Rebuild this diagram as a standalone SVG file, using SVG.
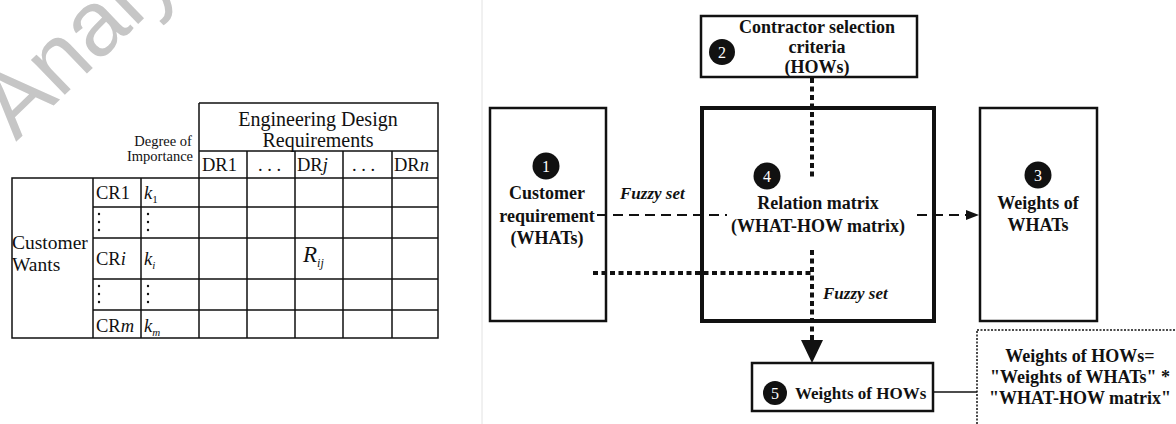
<svg xmlns="http://www.w3.org/2000/svg" width="1176" height="424" viewBox="0 0 1176 424">
  <style>
    .grid { stroke: #111; stroke-width: 1.5; fill: none; }
    .tt { font-family: "Liberation Serif", "Times New Roman", serif; fill: #111; }
    .bx { fill: #fff; stroke: #111; stroke-width: 2.5; }
    .lb { font-family: "Liberation Serif", "Times New Roman", serif; font-weight: bold; font-size: 18px; fill: #111; text-anchor: middle; }
    .num { font-family: "Liberation Serif", "Times New Roman", serif; font-size: 16px; fill: #fff; text-anchor: middle; }
    .fz { font-family: "Liberation Serif", "Times New Roman", serif; font-weight: bold; font-style: italic; font-size: 17px; fill: #111; }
    .dash { stroke: #111; stroke-width: 2.2; stroke-dasharray: 10 6; fill: none; }
    .dot { stroke: #111; stroke-width: 4; stroke-dasharray: 5 3.5; fill: none; }
  </style>
  <defs>
    <marker id="arrowSmall" markerWidth="14" markerHeight="12" refX="13" refY="6" orient="auto" markerUnits="userSpaceOnUse">
      <path d="M0,1 L13,6 L0,11 Z" fill="#111"/>
    </marker>
  </defs>

  <!-- watermark -->
  <text x="16" y="142" transform="rotate(-44 16 142)" font-family="Liberation Sans, Arial, sans-serif" font-size="92" fill="#c6c6c6">Analysis</text>

  <!-- separator between panels -->
  <line x1="482" y1="0" x2="482" y2="424" stroke="#e2e2e2" stroke-width="1"/>

  <!-- QFD house-of-quality table -->
  <g id="qfd-table">
    <path class="grid" d="M199,103 H438 V338 H12 V178 H438 M199,103 V338 M199,151 H438 M93,178 V338 M141,178 V338 M247,151 V338 M295,151 V338 M343,151 V338 M392,151 V338 M93,207 H438 M93,238 H438 M93,279 H438 M93,310 H438"/>
    <text class="tt" x="163" y="146" font-size="14.5" text-anchor="middle">Degree of</text>
    <text class="tt" x="160" y="161" font-size="14.5" text-anchor="middle">Importance</text>
    <text class="tt" x="318" y="126" font-size="20" text-anchor="middle">Engineering Design</text>
    <text class="tt" x="318" y="147" font-size="20" text-anchor="middle">Requirements</text>
    <text class="tt" x="202" y="171" font-size="18.5">DR1</text>
    <text class="tt" x="258" y="171" font-size="18.5">. . .</text>
    <text class="tt" x="297" y="171" font-size="18.5">DR<tspan font-style="italic">j</tspan></text>
    <text class="tt" x="352" y="171" font-size="18.5">. . .</text>
    <text class="tt" x="394" y="171" font-size="18.5">DR<tspan font-style="italic">n</tspan></text>
    <text class="tt" x="12" y="249" font-size="19.5">Customer</text>
    <text class="tt" x="12" y="271" font-size="19.5">Wants</text>
    <text class="tt" x="96" y="199" font-size="18.5">CR1</text>
    <text class="tt" x="144" y="199" font-size="18.5" font-style="italic">k<tspan font-style="normal" font-size="11" dy="4">1</tspan></text>
    <text class="tt" x="96" y="265" font-size="18.5">CR<tspan font-style="italic">i</tspan></text>
    <text class="tt" x="144" y="265" font-size="18.5" font-style="italic">k<tspan font-size="11" dy="4">i</tspan></text>
    <text class="tt" x="96" y="332" font-size="18.5">CR<tspan font-style="italic">m</tspan></text>
    <text class="tt" x="144" y="332" font-size="18.5" font-style="italic">k<tspan font-size="11" dy="4">m</tspan></text>
    <g fill="#111">
      <circle cx="99" cy="214" r="1.2"/><circle cx="99" cy="222" r="1.2"/><circle cx="99" cy="230" r="1.2"/>
      <circle cx="148" cy="214" r="1.2"/><circle cx="148" cy="222" r="1.2"/><circle cx="148" cy="230" r="1.2"/>
      <circle cx="99" cy="286" r="1.2"/><circle cx="99" cy="294" r="1.2"/><circle cx="99" cy="302" r="1.2"/>
      <circle cx="148" cy="286" r="1.2"/><circle cx="148" cy="294" r="1.2"/><circle cx="148" cy="302" r="1.2"/>
    </g>
    <text class="tt" x="303" y="262" font-size="23" font-style="italic">R<tspan font-size="12" dy="5">ij</tspan></text>
  </g>

  <!-- connectors -->
  <g id="connectors">
    <line class="dash" x1="597" y1="215" x2="727" y2="215"/>
    <line class="dash" x1="917" y1="215" x2="979" y2="215" marker-end="url(#arrowSmall)"/>
    <line class="dot" x1="812" y1="78" x2="812" y2="178"/>
    <line class="dot" x1="812" y1="250" x2="812" y2="342"/>
    <path d="M801,340 L823,340 L812,363 Z" fill="#111"/>
    <line class="dot" x1="593" y1="273" x2="812" y2="273"/>
    <line x1="933" y1="392" x2="977" y2="392" stroke="#111" stroke-width="1.5"/>
  </g>

  <!-- 1: customer requirement -->
  <g id="node-whats">
    <rect class="bx" x="490" y="108" width="116" height="213" style="fill:none"/>
    <circle cx="546" cy="166" r="13.5" fill="#111"/>
    <text class="num" x="546" y="171.5">1</text>
    <text class="lb" x="547" y="199">Customer</text>
    <text class="lb" x="547" y="222">requirement</text>
    <text class="lb" x="547" y="244">(WHATs)</text>
  </g>

  <!-- 2: contractor selection criteria -->
  <g id="node-hows">
    <rect class="bx" x="701" y="16" width="216" height="61"/>
    <circle cx="722" cy="52" r="13" fill="#111"/>
    <text class="num" x="722" y="57.5">2</text>
    <text class="lb" x="817" y="33">Contractor selection</text>
    <text class="lb" x="817" y="53">criteria</text>
    <text class="lb" x="817" y="73">(HOWs)</text>
  </g>

  <!-- 4: relation matrix -->
  <g id="node-matrix">
    <rect x="702" y="108" width="232" height="213" fill="none" stroke="#111" stroke-width="4"/>
    <circle cx="767" cy="176" r="13.5" fill="#111"/>
    <text class="num" x="767" y="181.5">4</text>
    <rect x="730" y="190" width="184" height="46" fill="#fff"/>
    <text class="lb" x="818" y="209">Relation matrix</text>
    <text class="lb" x="818" y="232">(WHAT-HOW matrix)</text>
  </g>

  <!-- fuzzy set labels -->
  <text class="fz" x="620" y="199">Fuzzy set</text>
  <text class="fz" x="823" y="299">Fuzzy set</text>

  <!-- 3: weights of WHATs -->
  <g id="node-weights-whats">
    <rect class="bx" x="980" y="108" width="117" height="213" stroke-width="2"/>
    <circle cx="1038" cy="175" r="13.5" fill="#111"/>
    <text class="num" x="1038" y="180.5">3</text>
    <text class="lb" x="1038" y="209">Weights of</text>
    <text class="lb" x="1038" y="231">WHATs</text>
  </g>

  <!-- 5: weights of HOWs -->
  <g id="node-weights-hows">
    <rect class="bx" x="752" y="363" width="181" height="48" stroke-width="2"/>
    <circle cx="775" cy="393" r="12" fill="#111"/>
    <text class="num" x="775" y="398.5">5</text>
    <text class="lb" x="795" y="399" style="font-size:17px; text-anchor:start">Weights of HOWs</text>
  </g>

  <!-- formula box -->
  <g id="node-formula">
    <rect x="977" y="330" width="210" height="110" fill="#fff" stroke="#111" stroke-width="1.5" stroke-dasharray="2 1.5"/>
    <text class="lb" x="1080" y="362">Weights of HOWs=</text>
    <text class="lb" x="1080" y="383">"Weights of WHATs" *</text>
    <text class="lb" x="1080" y="404">"WHAT-HOW matrix"</text>
  </g>
</svg>
